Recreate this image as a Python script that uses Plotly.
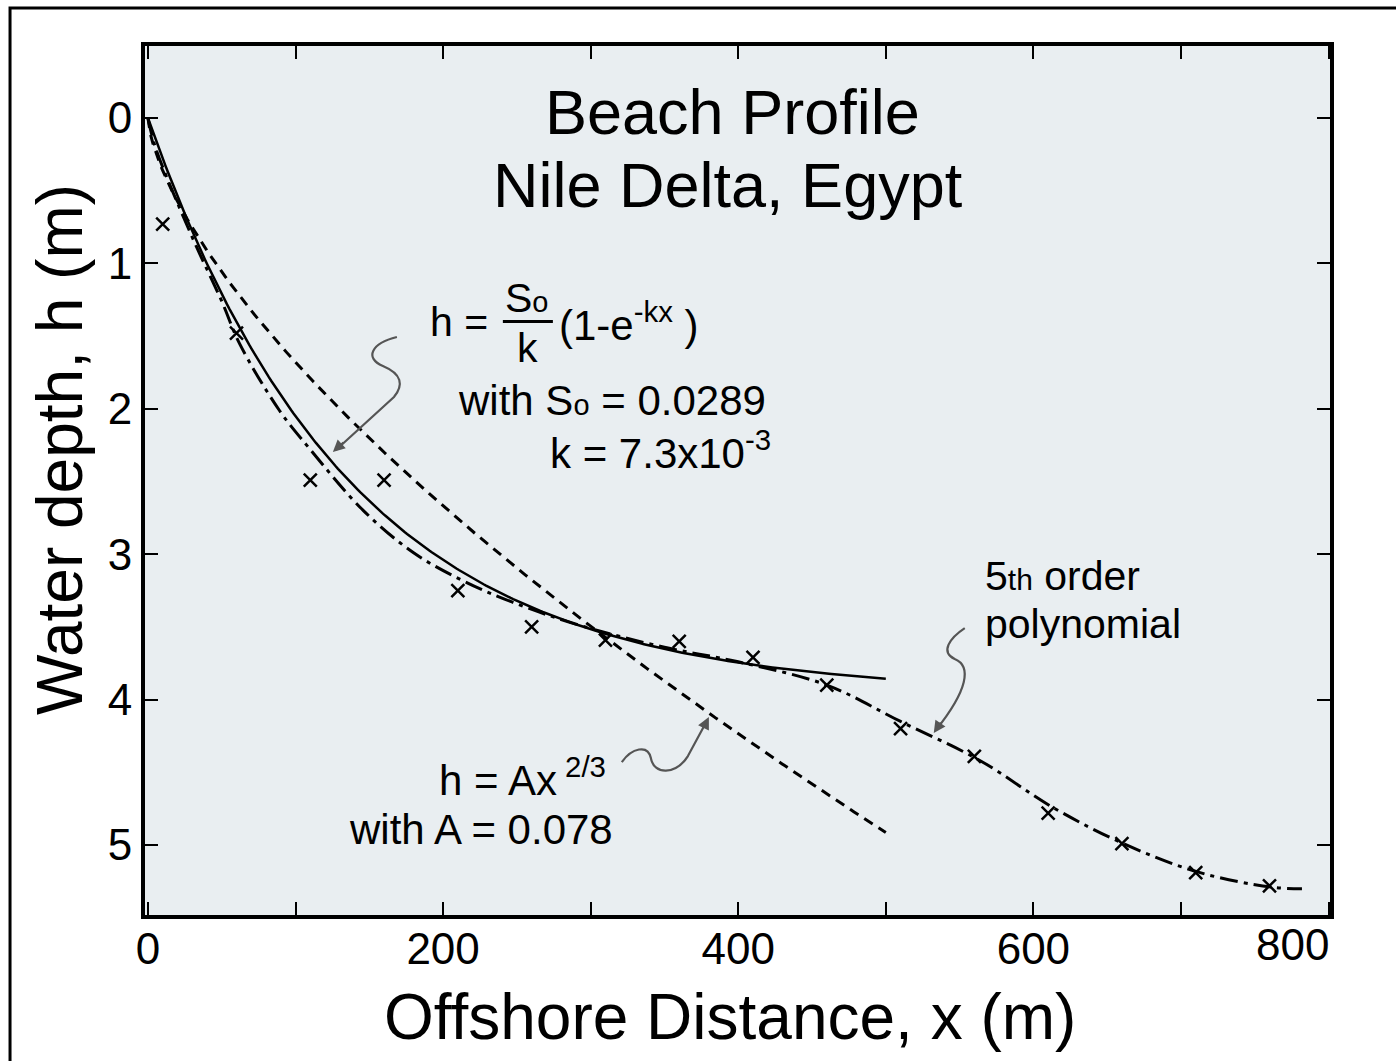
import numpy as np
import plotly.graph_objects as go

# Surveyed profile points (offshore distance in m, water depth in m)
obs_x = [10, 60, 110, 160, 210, 260, 310, 360, 410, 460, 510, 560, 610, 660, 710, 760]
obs_h = [0.73, 1.48, 2.49, 2.49, 3.25, 3.50, 3.59, 3.60, 3.71, 3.90, 4.20, 4.39, 4.78, 4.99, 5.19, 5.28]

# Fitted 5th order polynomial, sampled along the profile
poly_x = [0, 5, 30, 50, 62, 89, 110, 146, 180, 213, 247, 293, 350, 400, 460, 510, 564, 613, 661, 713, 762, 782]
poly_h = [0, 0.20, 0.82, 1.26, 1.55, 2.01, 2.28, 2.70, 2.99, 3.18, 3.33, 3.49, 3.64, 3.74, 3.90, 4.15, 4.42, 4.74, 4.99, 5.19, 5.29, 5.30]

# Equilibrium profile parameters
S0 = 0.0289
K = 7.3e-3
A = 0.078
X_MAX_MODEL = 500

x_model = np.linspace(0, X_MAX_MODEL, 300)
h_exp = S0 / K * (1 - np.exp(-K * x_model))
h_dean = A * x_model ** (2 / 3)

x_ticks = list(range(0, 801, 100))
x_tick_text = [str(v) if (v % 200 == 0 and v < 800) else "" for v in x_ticks]
y_ticks = [0, 1, 2, 3, 4, 5]

FONT = "Liberation Sans, Arial, sans-serif"
ARROW = "#555555"

fig = go.Figure()

fig.add_trace(go.Scatter(
    x=x_model, y=h_dean, mode="lines",
    line=dict(color="black", width=3, dash="10px,7px"),
    hoverinfo="skip"))
fig.add_trace(go.Scatter(
    x=poly_x, y=poly_h, mode="lines",
    line=dict(color="black", width=3, dash="18px,6px,4px,6px", shape="spline", smoothing=1.0),
    hoverinfo="skip"))
fig.add_trace(go.Scatter(
    x=x_model, y=h_exp, mode="lines",
    line=dict(color="black", width=2.5),
    hoverinfo="skip"))
fig.add_trace(go.Scatter(
    x=obs_x, y=obs_h, mode="markers",
    marker=dict(symbol="x-thin", size=13, line=dict(color="black", width=2.5)),
    hoverinfo="skip"))

ann = []


def txt(x, y, s, size=42, xanchor="left", yanchor="middle", xref="x", yref="y", angle=0, xshift=0):
    ann.append(dict(x=x, y=y, xref=xref, yref=yref, text=s, showarrow=False,
                    xanchor=xanchor, yanchor=yanchor, textangle=angle, xshift=xshift,
                    font=dict(family=FONT, size=size, color="black")))


# Title
txt(396, -0.04, "Beach Profile", size=63, xanchor="center")
txt(393, 0.46, "Nile Delta, Egypt", size=63, xanchor="center")

# Exponential profile equation
small_o = "<span style='font-size:29px'>o</span>"
txt(190, 1.40, "h =", size=41)
txt(257, 1.24, "S" + small_o, size=41, xanchor="center")
txt(257, 1.58, "k", size=41, xanchor="center")
txt(277, 1.40, "(1-e<sup>-kx</sup> )", size=42)
txt(209, 1.94, "with S" + small_o + " = 0.0289")
txt(271, 2.28, "k = 7.3x10<sup>-3</sup>")

# Polynomial label
txt(566, 3.15, "5<span style='font-size:30px'>th</span> order", size=41)
txt(566, 3.48, "polynomial", size=41)

# Power-law profile equation
txt(196, 4.53, "h = Ax<sup> 2/3</sup>", size=42)
txt(135, 4.89, "with A = 0.078", size=42)

# Last x tick label sits just inside the right edge
txt(800, -0.0345, "800", size=44, xanchor="right", xref="x", yref="paper", xshift=2)

# Axis titles
txt(0.4937, -0.1174, "Offshore Distance, x (m)", size=64, xanchor="center",
    xref="paper", yref="paper")
txt(-0.0717, 0.535, "Water depth, h (m)", size=64, xanchor="center",
    xref="paper", yref="paper", angle=-90)

# Arrow heads for the leader lines
for hx, hy, ax, ay in [(125.3, 2.297, 12, -11), (380.1, 4.120, -6, 12), (532.5, 4.230, 8, -12)]:
    ann.append(dict(x=hx, y=hy, xref="x", yref="y", ax=ax, ay=ay, text="",
                    showarrow=True, arrowhead=2, arrowsize=1.2, arrowwidth=2,
                    arrowcolor=ARROW))

shapes = []
# Fraction bar of So/k
shapes.append(dict(type="line", xref="x", yref="y", x0=240.5, x1=274.4, y0=1.40, y1=1.40,
                   line=dict(color="black", width=3)))
# Wavy leader lines (data units)
leaders = [
    "M 168.7,1.506 C 151.7,1.547 146.3,1.650 159.2,1.706 "
    "C 172.1,1.761 173.4,1.836 166.7,1.919 L 127.4,2.283",
    "M 321.1,4.429 C 327.9,4.333 338.8,4.305 340.8,4.402 "
    "C 342.8,4.519 357.7,4.519 365.9,4.388 L 378.7,4.147",
    "M 553.5,3.508 C 543.4,3.576 536.6,3.673 546.7,3.721 "
    "C 558.3,3.769 555.6,3.934 533.9,4.209",
]
for p in leaders:
    shapes.append(dict(type="path", xref="x", yref="y", path=p,
                       line=dict(color=ARROW, width=2.2)))
# Outer frame of the figure
shapes.append(dict(type="rect", xref="paper", yref="paper",
                   x0=-0.1139, x1=1.08, y0=-0.2, y1=1.0437,
                   line=dict(color="black", width=3), layer="below"))

fig.update_layout(
    width=1396, height=1061,
    margin=dict(l=145, r=66, t=46, b=146, pad=0),
    paper_bgcolor="white",
    plot_bgcolor="#E9EEF1",
    showlegend=False,
    annotations=ann,
    shapes=shapes,
    font=dict(family=FONT, color="black"),
)
fig.update_xaxes(
    range=[-2, 801], tickvals=x_ticks, ticktext=x_tick_text,
    ticks="inside", ticklen=13, tickwidth=2, tickcolor="black",
    showline=True, linewidth=4, linecolor="black", mirror="ticks",
    showgrid=False, zeroline=False, ticklabelstandoff=-8,
    tickfont=dict(family=FONT, size=44, color="black"),
)
fig.update_yaxes(
    range=[5.481, -0.495], tickvals=y_ticks,
    ticks="inside", ticklen=13, tickwidth=2, tickcolor="black",
    showline=True, linewidth=4, linecolor="black", mirror="ticks",
    showgrid=False, zeroline=False,
    tickfont=dict(family=FONT, size=44, color="black"),
)

fig.write_html("out.html")
